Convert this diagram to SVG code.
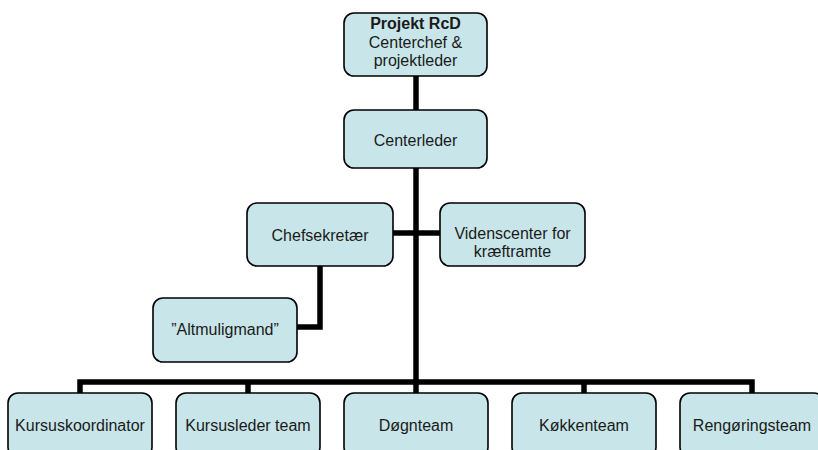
<svg xmlns="http://www.w3.org/2000/svg" width="818" height="450" viewBox="0 0 818 450">
<style>
.box{fill:#c8e6e9;stroke:#000;stroke-width:1.6}
.t{font-family:"Liberation Sans",Arial,sans-serif;font-size:16px;fill:#1a1a1a;text-anchor:middle}
.b{font-weight:bold}
.c{fill:none;stroke:#000;stroke-width:5.5;stroke-linejoin:miter}
</style>
<rect width="818" height="450" fill="#fff"/>
<g id="connectors">
<path class="c" d="M416,76 V110"/>
<path class="c" d="M416,168 V382"/>
<path class="c" d="M393,233 H440"/>
<path class="c" d="M320,266 V327 H297"/>
<path class="c" d="M80,393 V382 H752 V393"/>
<path class="c" d="M248,382 V393 M416,382 V393 M584,382 V393"/>
</g>
<g id="projekt">
<rect class="box" x="344" y="13" width="143" height="63" rx="10"/>
<text class="t b" x="415.5" y="29">Projekt RcD</text>
<text class="t" x="415.5" y="47.5">Centerchef &amp;</text>
<text class="t" x="415.5" y="66">projektleder</text>
</g>
<g id="centerleder">
<rect class="box" x="344" y="110" width="143" height="58" rx="10"/>
<text class="t" x="415.5" y="146">Centerleder</text>
</g>
<g id="chefsekretaer">
<rect class="box" x="247" y="203" width="146" height="63" rx="10"/>
<text class="t" x="320" y="241">Chefsekretær</text>
</g>
<g id="videnscenter">
<rect class="box" x="440" y="203" width="145" height="63" rx="10"/>
<text class="t" x="512.5" y="239">Videnscenter for</text>
<text class="t" x="512.5" y="257">kræftramte</text>
</g>
<g id="altmuligmand">
<rect class="box" x="153" y="298" width="144" height="64" rx="10"/>
<text class="t" x="225" y="335">”Altmuligmand”</text>
</g>
<g id="kursuskoordinator">
<rect class="box" x="8" y="393" width="144" height="64" rx="10"/>
<text class="t" x="80" y="431">Kursuskoordinator</text>
</g>
<g id="kursusleder">
<rect class="box" x="176" y="393" width="144" height="64" rx="10"/>
<text class="t" x="248" y="431">Kursusleder team</text>
</g>
<g id="doegnteam">
<rect class="box" x="344" y="393" width="144" height="64" rx="10"/>
<text class="t" x="416" y="431">Døgnteam</text>
</g>
<g id="koekkenteam">
<rect class="box" x="512" y="393" width="144" height="64" rx="10"/>
<text class="t" x="584" y="431">Køkkenteam</text>
</g>
<g id="rengoeringsteam">
<rect class="box" x="680" y="393" width="144" height="64" rx="10"/>
<text class="t" x="752" y="431">Rengøringsteam</text>
</g>
</svg>
